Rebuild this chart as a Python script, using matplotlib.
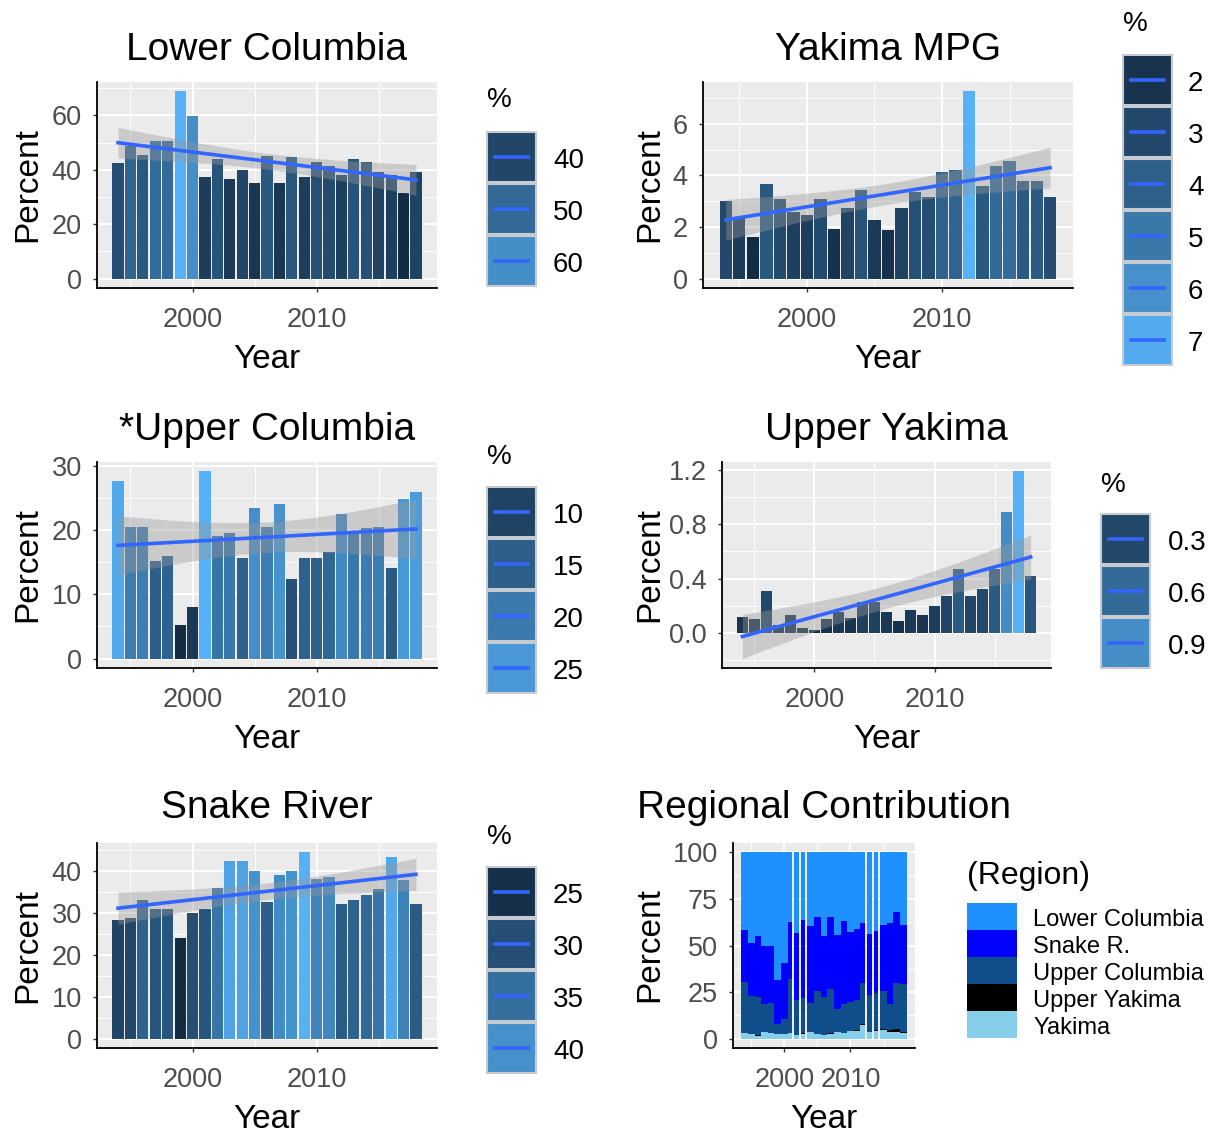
import numpy as np
import matplotlib
matplotlib.use("Agg")
import matplotlib.pyplot as plt
from matplotlib.patches import Rectangle
from matplotlib.ticker import MultipleLocator, FormatStrFormatter

plt.rcParams['font.family'] = ['Liberation Sans', 'DejaVu Sans']

# data
years = np.arange(1994, 2019)
lower_columbia = [42.3, 48.7, 45.3, 50.5, 50.5, 68.8, 59.6, 37.4, 44.0, 36.5, 40.0, 35.0, 45.0,
                  35.0, 44.7, 37.4, 43.0, 41.3, 38.0, 44.0, 43.0, 39.0, 38.0, 31.6, 39.0]
yakima_mpg = [3.0, 2.35, 1.6, 3.68, 3.09, 2.6, 2.47, 3.09, 1.93, 2.73, 3.44, 2.29, 1.87,
              2.73, 3.37, 3.17, 4.12, 4.2, 7.26, 3.6, 4.38, 4.56, 3.78, 3.78, 3.17]
upper_columbia = [27.6, 20.5, 20.5, 15.1, 15.9, 5.2, 8.1, 29.1, 19.1, 19.5, 15.6, 23.4, 20.5,
                  24.1, 12.4, 15.6, 15.6, 16.6, 22.4, 19.5, 20.3, 20.5, 14.1, 24.8, 25.9]
upper_yakima = [0.12, 0.10, 0.31, 0.06, 0.135, 0.037, 0.02, 0.10, 0.155, 0.11, 0.23, 0.23, 0.155,
                0.086, 0.17, 0.135, 0.20, 0.27, 0.47, 0.27, 0.32, 0.47, 0.89, 1.19, 0.42]
snake_river = [28.4, 28.8, 33.2, 31.0, 31.0, 24.1, 30.0, 31.0, 36.0, 42.4, 42.4, 40.1, 32.6,
               39.1, 40.1, 44.5, 38.2, 38.6, 32.1, 33.2, 34.2, 35.8, 43.3, 37.9, 32.1]

region_names = ['Lower Columbia', 'Snake R.', 'Upper Columbia', 'Upper Yakima', 'Yakima']
region_colors = ['#1E90FF', '#0000FF', '#104E8B', '#000000', '#87CEEB']
gap_years = [2001, 2002, 2003, 2012, 2013, 2014]

W, H = 1210, 1133
LOW, HIGH = '#132B43', '#56B1F7'
M = np.array([[0.4124, 0.3576, 0.1805], [0.2126, 0.7152, 0.0722], [0.0193, 0.1192, 0.9505]])
WHITE = np.array([0.95047, 1.0, 1.08883])


def to_lab(h):
    c = np.array([int(h[i:i + 2], 16) for i in (1, 3, 5)]) / 255
    c = np.where(c <= 0.04045, c / 12.92, ((c + 0.055) / 1.055) ** 2.4)
    xyz = M @ c / WHITE
    f = np.where(xyz > (6 / 29) ** 3, np.cbrt(xyz), xyz / (3 * (6 / 29) ** 2) + 4 / 29)
    return np.array([116 * f[1] - 16, 500 * (f[0] - f[1]), 200 * (f[1] - f[2])])


def from_lab(lab):
    fy = (lab[0] + 16) / 116
    f = np.array([fy + lab[1] / 500, fy, fy - lab[2] / 200])
    xyz = np.where(f > 6 / 29, f ** 3, 3 * (6 / 29) ** 2 * (f - 4 / 29)) * WHITE
    c = np.clip(np.linalg.solve(M, xyz), 0, 1)
    return np.clip(np.where(c <= 0.0031308, 12.92 * c, 1.055 * c ** (1 / 2.4) - 0.055), 0, 1)


LAB_LO, LAB_HI = to_lab(LOW), to_lab(HIGH)


def grad(v, lo, hi):
    t = np.clip((v - lo) / (hi - lo), 0, 1)
    return from_lab(LAB_LO + t * (LAB_HI - LAB_LO))


def box(l, t, r, b):
    return [l / W, 1 - b / H, (r - l) / W, (b - t) / H]


def style_axes(ax, ystep, yfmt):
    ax.set_facecolor('#EBEBEB')
    for s in ['top', 'right']:
        ax.spines[s].set_visible(False)
    for s in ['left', 'bottom']:
        ax.spines[s].set_color('black')
        ax.spines[s].set_linewidth(1.3)
    ax.xaxis.set_major_locator(MultipleLocator(10))
    ax.xaxis.set_minor_locator(MultipleLocator(5))
    ax.yaxis.set_major_locator(MultipleLocator(ystep))
    ax.yaxis.set_minor_locator(MultipleLocator(ystep / 2))
    ax.yaxis.set_major_formatter(FormatStrFormatter(yfmt))
    ax.grid(which='major', color='white', lw=1.4)
    ax.grid(which='minor', color='white', lw=0.7)
    ax.set_axisbelow(True)
    ax.tick_params(which='major', length=3, width=1, color='#333333', labelcolor='#4D4D4D',
                   labelsize=19.5)
    ax.tick_params(axis='y', pad=8)
    ax.tick_params(axis='x', pad=11)
    ax.tick_params(which='minor', length=0)


fig = plt.figure(figsize=(W / 100, H / 100), dpi=100)

panels = [
    ('Lower Columbia', lower_columbia, 20, '%g', [40, 50, 60], (97, 82, 437, 288), 47, 28, 358, (487, 100, 132, 553)),
    ('Yakima MPG', yakima_mpg, 2, '%g', [2, 3, 4, 5, 6, 7], (703, 82, 1073, 288), 47, 650, 358, (1123, 24, 55, 1188)),
    ('*Upper Columbia', upper_columbia, 10, '%g', [10, 15, 20, 25], (97, 462, 437, 668), 427, 28, 738, (487, 457, 487, 553)),
    ('Upper Yakima', upper_yakima, 0.4, '%.1f', [0.3, 0.6, 0.9], (722, 462, 1051, 668), 427, 650, 738, (1101, 485, 514, 1168)),
    ('Snake River', snake_river, 10, '%g', [25, 30, 35, 40], (97, 843, 437, 1048), 805, 28, 1117, (487, 837, 867, 553)),
]

texts = []
legends = []
for title, vals, ystep, yfmt, breaks, bx, ty, ylx, xly, leg in panels:
    vals = np.array(vals)
    lo, hi = vals.min(), vals.max()
    ax = fig.add_axes(box(*bx))
    ax.use_sticky_edges = False
    ax.bar(years, vals, width=0.9, color=[grad(v, lo, hi) for v in vals], zorder=2)
    # linear fit with 95% band
    n = len(years)
    b1, b0 = np.polyfit(years, vals, 1)
    resid = vals - (b0 + b1 * years)
    s = np.sqrt(np.sum(resid ** 2) / (n - 2))
    xs = np.linspace(years.min(), years.max(), 80)
    se = s * np.sqrt(1 / n + (xs - years.mean()) ** 2 / np.sum((years - years.mean()) ** 2))
    fit = b0 + b1 * xs
    ax.fill_between(xs, fit - 2.069 * se, fit + 2.069 * se, color='#999999', alpha=0.4, lw=0, zorder=3)
    ax.plot(xs, fit, color='#3366FF', lw=2.6, zorder=4)
    ax.margins(x=0.05, y=0.05)
    style_axes(ax, ystep, yfmt)
    cx = (bx[0] + bx[2]) / 2
    cy = (bx[1] + bx[3]) / 2
    texts.append((cx, ty + 3, title, 28, 0))
    texts.append((cx, xly + 2, 'Year', 24, 0))
    texts.append((ylx, cy, 'Percent', 24, 90))
    legends.append((leg, [grad(b, lo, hi) for b in breaks], breaks))

# regional contribution
stack = np.array([lower_columbia, snake_river, upper_columbia, upper_yakima, yakima_mpg])
share = stack / stack.sum(axis=0) * 100
widths = np.where(np.isin(years, gap_years), 0.68, 1.0)
bx = (733, 843, 915, 1048)
ax = fig.add_axes(box(*bx))
ax.use_sticky_edges = False
bottom = np.zeros(len(years))
for i in range(len(region_names) - 1, -1, -1):
    ax.bar(years - 0.5, share[i], width=widths, bottom=bottom, align='edge',
           color=region_colors[i], lw=0, zorder=2)
    bottom += share[i]
ax.margins(x=0.05, y=0.05)
style_axes(ax, 25, '%g')
texts.append((824, 808, 'Regional Contribution', 28, 0))
texts.append((824, 1119, 'Year', 24, 0))
texts.append((650, 945, 'Percent', 24, 90))

# overlay for titles and legends, in pixel coordinates
ov = fig.add_axes([0, 0, 1, 1])
ov.set_xlim(0, W)
ov.set_ylim(H, 0)
ov.axis('off')
ov.patch.set_alpha(0)
for x, y, s, fs, rot in texts:
    ov.text(x, y, s, fontsize=fs, ha='center', va='center', rotation=rot, color='black')

for (kx, ty, ktop, lx), cols, breaks in legends:
    ov.text(kx, ty, '%', fontsize=20, ha='left', va='center')
    for i, (c, b) in enumerate(zip(cols, breaks)):
        y0 = ktop + i * 52
        ov.add_patch(Rectangle((kx, y0), 49, 50, fc=c, ec='#C5CBD1', lw=1.5))
        ov.plot([kx + 8, kx + 41], [y0 + 25, y0 + 25], color='#3366FF', lw=2.6)
        ov.text(lx, y0 + 29, str(b), fontsize=20, ha='left', va='center')

ov.text(967, 876, '(Region)', fontsize=23, ha='left', va='center')
for i, (name, c) in enumerate(zip(region_names, region_colors)):
    y0 = 903 + i * 27
    ov.add_patch(Rectangle((967, y0), 50, 27, fc=c, lw=0))
    ov.text(1033, y0 + 17, name, fontsize=17, ha='left', va='center')

fig.savefig('out.png', dpi=100)
